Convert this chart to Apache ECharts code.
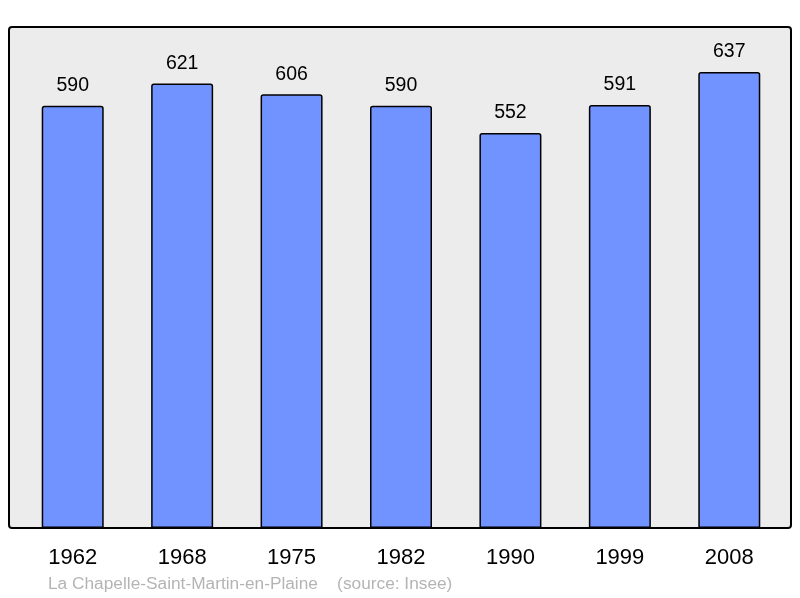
<!DOCTYPE html>
<html>
<head>
<meta charset="utf-8">
<script src="https://cdn.jsdelivr.net/npm/echarts@6/dist/echarts.min.js"></script>
<style>
  html, body { margin: 0; padding: 0; background: #fff; }
  #chart { width: 800px; height: 598px; }
</style>
</head>
<body>
<div id="chart"></div>
<script>
  // population by census year
  const years = ['1962', '1968', '1975', '1982', '1990', '1999', '2008'];
  const population = [590, 621, 606, 590, 552, 591, 637];
  const footer = 'La Chapelle-Saint-Martin-en-Plaine    (source: Insee)';

  const chart = echarts.init(document.getElementById('chart'));
  chart.setOption({
    animation: false,
    textStyle: { fontFamily: 'Liberation Sans, Arial, sans-serif' },
    graphic: [{
      type: 'rect',
      z: -10,
      shape: { x: 9, y: 27, width: 782, height: 501, r: 3 },
      style: { fill: '#ececec', stroke: '#000', lineWidth: 2 }
    }, {
      type: 'text',
      left: 48,
      top: 576,
      style: {
        text: footer,
        fill: '#b4b4b4',
        font: '17.3px Liberation Sans, Arial, sans-serif'
      }
    }],
    grid: {
      left: 18,
      right: 16,
      top: 27,
      bottom: 70
    },
    xAxis: {
      type: 'category',
      data: years,
      axisLine: { show: false },
      axisTick: { show: false },
      axisLabel: {
        color: '#000',
        fontSize: 22,
        margin: 19
      }
    },
    yAxis: {
      type: 'value',
      min: 0,
      max: 700,
      show: false,
      splitLine: { show: false }
    },
    series: [{
      type: 'bar',
      data: population,
      barWidth: 62,
      itemStyle: {
        color: '#7093ff',
        borderColor: '#000',
        borderWidth: 1.5,
        borderRadius: [2, 2, 0, 0]
      },
      label: {
        show: true,
        position: 'top',
        distance: 10,
        color: '#000',
        fontSize: 19.5
      }
    }]
  });
</script>
</body>
</html>
